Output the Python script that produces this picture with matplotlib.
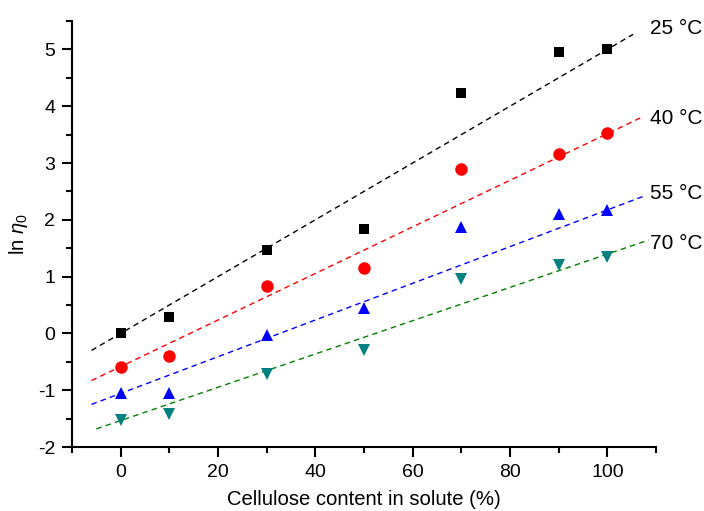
import matplotlib
matplotlib.use("Agg")
import matplotlib.pyplot as plt
import numpy as np

plt.rcParams['font.family'] = ['Liberation Sans', 'DejaVu Sans']
plt.rcParams['mathtext.fontset'] = 'custom'
plt.rcParams['mathtext.rm'] = 'Liberation Sans'
plt.rcParams['mathtext.it'] = 'Liberation Sans:italic'
plt.rcParams['axes.unicode_minus'] = False

# Cellulose content (%) and ln(eta0) at each temperature
cellulose = [0, 10, 30, 50, 70, 90, 100]
ln_eta_25 = [0.00, 0.29, 1.46, 1.83, 4.24, 4.96, 5.01]
ln_eta_40 = [-0.60, -0.39, 0.84, 1.16, 2.90, 3.16, 3.52]
ln_eta_55 = [-1.05, -1.05, -0.02, 0.44, 1.87, 2.10, 2.17]
ln_eta_70 = [-1.52, -1.42, -0.71, -0.29, 0.95, 1.21, 1.34]

temps = ["25 °C", "40 °C", "55 °C", "70 °C"]
# linear model ln(eta0) = a + b * content
intercepts = [0.0, -0.584, -1.056, -1.534]
slopes = [0.0500, 0.0410, 0.0323, 0.0293]
line_ranges = [(-6, 105.3), (-6, 107.5), (-6, 107.8), (-5, 108.5)]

series = [ln_eta_25, ln_eta_40, ln_eta_55, ln_eta_70]
markers = ['s', 'o', '^', 'v']
marker_colors = ['black', '#ff0000', '#0000ff', '#008080']
line_colors = ['black', '#ff0000', '#0000ff', '#008000']
label_y = [5.37, 3.79, 2.46, 1.58]

fig = plt.figure(figsize=(7.04, 5.11), dpi=100)
ax = fig.add_axes([0.1023, 0.1252, 0.8295, 0.8337])

for vals, a, b, (x0, x1), mk, mc, lc, t, ly in zip(series, intercepts, slopes, line_ranges,
                                                  markers, marker_colors, line_colors, temps, label_y):
    xs = np.array([x0, x1])
    ax.plot(xs, a + b * xs, linestyle=(0, (4, 3)), color=lc, linewidth=1.0, zorder=2)
    ax.plot(cellulose, vals, linestyle='none', marker=mk, color=mc, markersize=9 if mk != 's' else 7.8,
            markeredgewidth=0, zorder=3)
    ax.text(108.7, ly, t, fontsize=15, ha='left', va='center', clip_on=False)

ax.set_xlim(-10, 110)
ax.set_ylim(-2, 5.5)
ax.set_xticks([0, 20, 40, 60, 80, 100])
ax.set_xticks(np.arange(-10, 111, 10), minor=True)
ax.set_yticks([-2, -1, 0, 1, 2, 3, 4, 5])
ax.set_yticks(np.arange(-2, 5.51, 0.5), minor=True)

for s in ['top', 'right']:
    ax.spines[s].set_visible(False)
for s in ['left', 'bottom']:
    ax.spines[s].set_linewidth(1.5)

ax.tick_params(which='major', direction='out', length=7, width=1.5, labelsize=14, pad=5)
ax.tick_params(which='minor', direction='out', length=4, width=1.5)

ax.set_xlabel('Cellulose content in solute (%)', fontsize=14.6, labelpad=7)
ax.set_ylabel(r'ln $\eta_0$', fontsize=14.6, labelpad=6)

fig.savefig('out.png', dpi=100)
